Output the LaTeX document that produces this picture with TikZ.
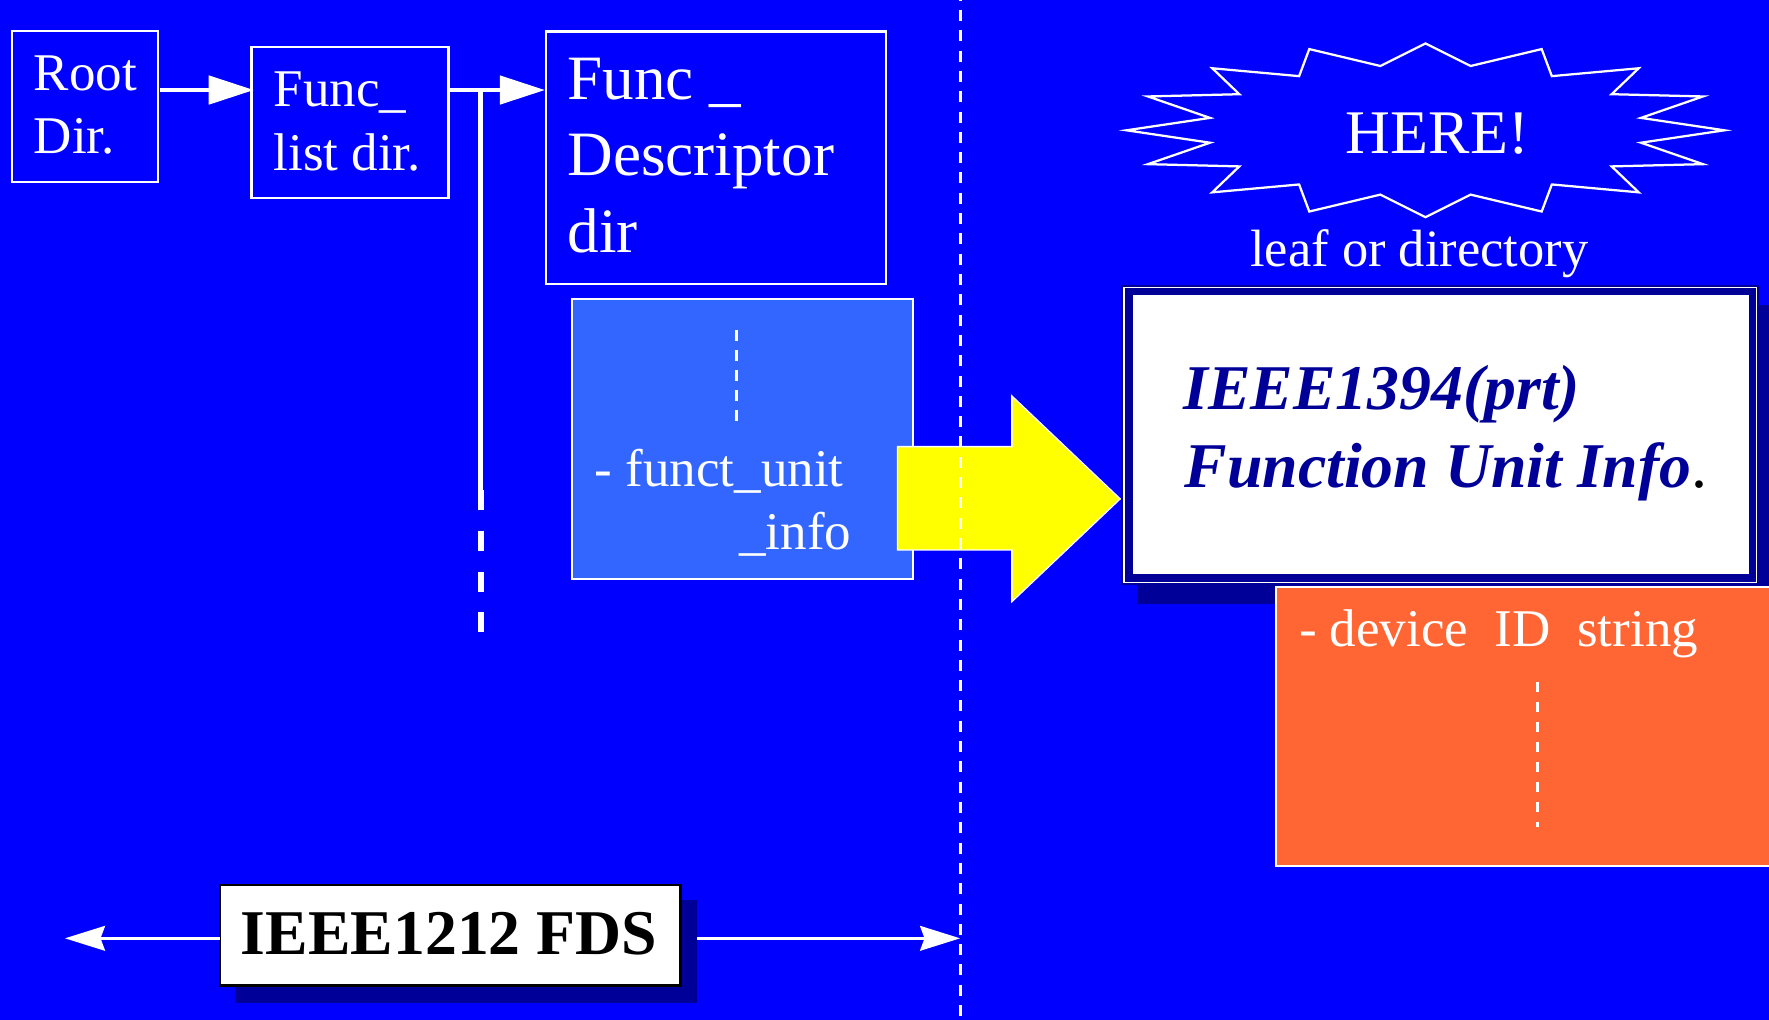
\documentclass[tikz,border=0pt]{standalone}
\usepackage{fontspec}
\setmainfont{Liberation Serif}
\usetikzlibrary{arrows.meta}

\definecolor{bgblue}{HTML}{0000FF}
\definecolor{lightblue}{HTML}{3366FF}
\definecolor{hiyellow}{HTML}{FFFF00}
\definecolor{orangebox}{HTML}{FF6633}
\definecolor{navy}{HTML}{000099}

\tikzset{
  box/.style={rectangle, draw=white, line width=2pt, inner sep=0pt, outer sep=0pt, anchor=north west},
  txt/.style={text=white, anchor=base west, inner sep=0pt, outer sep=0pt},
  fsmall/.style={font=\fontsize{47}{57}\selectfont},
  fbig/.style={font=\fontsize{56}{68}\selectfont},
  flow/.style={draw=white, line width=3.8pt, -{Triangle[length=40pt, width=25pt]}},
  bothway/.style={draw=white, line width=2.2pt, -{Stealth[length=35.5pt, width=22pt, inset=4pt]}},
  dotline/.style={draw=white, line width=2.6pt, dash pattern=on 10pt off 7.7pt},
  shadowbox/.style={rectangle, fill=navy, inner sep=0pt, outer sep=0pt, anchor=north west},
}

\begin{document}
\begin{tikzpicture}[x=1pt, y=-1pt]
  % canvas
  \useasboundingbox (0,0) rectangle (1568,904);
  \fill[bgblue] (0,0) rectangle (1568,904);

  % directory chain
  \node[box, minimum width=129.5pt, minimum height=133.5pt] (root) at (10.5,27.5) {};
  \node[txt, fsmall] (rootA) at (29.9,79.8) {Root};
  \node[txt, fsmall] (rootB) at (29.9,136.5) {Dir.};

  \node[box, minimum width=174.6pt, minimum height=133.8pt] (flist) at (223,41.7) {};
  \node[txt, fsmall] (flistA) at (242.5,94) {Func\_};
  \node[txt, fsmall] (flistB) at (242.5,150.7) {list dir.};

  \node[box, minimum width=301.4pt, minimum height=224pt] (fdesc) at (484,28) {};
  \node[txt, fbig] (fdescA) at (503,88) {Func \_};
  \node[txt, fbig] (fdescB) at (503,156) {Descriptor};
  \node[txt, fbig] (fdescC) at (503,223.7) {dir};

  \coordinate (rowa) at (0,79.8);
  \draw[flow] ([xshift=1.5pt]root.east |- rowa) -- ([xshift=2pt]flist.west |- rowa);
  \draw[flow] (flist.east |- rowa) -- ([xshift=-1pt]fdesc.west |- rowa);

  % branch going down from the chain
  \coordinate (branch) at (426,78);
  \coordinate (solidend) at (426,434);
  \coordinate (dashend) at (426,561);
  \draw[white, line width=4pt] (branch) -- (solidend);
  \draw[white, line width=5.3pt, dash pattern=on 17.7pt off 18.6pt] (solidend) -- (dashend);

  % entry list of the descriptor directory
  \node[box, fill=lightblue, minimum width=301.8pt, minimum height=247.7pt] (funit) at (507.2,265.3) {};
  \coordinate (funitTop) at (652.7,292.5);
  \coordinate (funitBot) at (652.7,372.9);
  \draw[dotline] (funitTop) -- (funitBot);
  \node[txt, fsmall] (funitA) at (527.2,430.8) {- funct\_unit};
  \node[txt, fsmall] (funitB) at (655.4,486.9) {\_info};

  % big yellow arrow
  \fill[hiyellow, draw=white, line width=1.2pt]
    (795.5,395.9) -- (896.9,395.9) -- (896.9,351) -- (992.9,442.2)
    -- (896.9,533.3) -- (896.9,487.5) -- (795.5,487.5) -- cycle;

  % starburst callout
  \begin{scope}[shift={(1263.5,115.5)}]
    \draw[white, line width=2pt, line join=miter]
      (0,-77) -- (40,-57) -- (103,-72) -- (112,-48) -- (189,-55) -- (165,-32)
      -- (246,-30) -- (191,-11) -- (265,0) -- (191,11) -- (246,30) -- (165,32)
      -- (189,55) -- (112,48) -- (103,72) -- (40,57) -- (0,77) -- (-40,57)
      -- (-103,72) -- (-112,48) -- (-189,55) -- (-165,32) -- (-246,30)
      -- (-191,11) -- (-265,0) -- (-191,-11) -- (-246,-30) -- (-165,-32)
      -- (-189,-55) -- (-112,-48) -- (-103,-72) -- (-40,-57) -- cycle;
  \end{scope}
  \node[text=white, anchor=base, inner sep=0pt, font=\fontsize{55}{66}\selectfont] (here) at (1274,136.5) {HERE!};
  \node[text=white, anchor=base, inner sep=0pt, font=\fontsize{46.5}{56}\selectfont] (leaf) at (1258,236) {leaf or directory};

  % framed info box with shadow
  \node[shadowbox, minimum width=567pt, minimum height=265pt] (infoshadow) at (1008,270) {};
  \node[rectangle, fill=navy, inner sep=0pt, outer sep=0pt, anchor=north west,
        minimum width=565pt, minimum height=266pt] (info) at (994,252.6) {};
  \draw[white, line width=1.3pt]
    ([shift={(2.3pt,-2.3pt)}]info.north west) rectangle ([shift={(-2.3pt,2.3pt)}]info.south east);
  \fill[white]
    ([shift={(10.5pt,-8.9pt)}]info.north west) rectangle ([shift={(-8.5pt,10.1pt)}]info.south east);
  \node[anchor=base west, inner sep=0pt, text=navy, font=\fontsize{56.5}{68}\selectfont\bfseries\itshape]
    (infoA) at (1048.8,363.4) {IEEE1394(prt)};
  \node[anchor=base west, inner sep=0pt, text=navy, font=\fontsize{56.5}{68}\selectfont\bfseries\itshape]
    (infoB) at (1049.9,432) {Function Unit Info\textcolor{black}{\mdseries\upshape .}};

  % device ID block
  \node[box, fill=orangebox, minimum width=450pt, minimum height=247pt] (dev) at (1131,520.6) {};
  \node[txt, fsmall] (devA) at (1151.4,573.2) {- device\ \ ID\ \ string};
  \coordinate (devTop) at (1362.6,604.8);
  \coordinate (devBot) at (1362.6,733.3);
  \draw[white, line width=2.4pt, dash pattern=on 8.9pt off 8.8pt] (devTop) -- (devBot);

  % scope label at the bottom
  \node[shadowbox, minimum width=409.8pt, minimum height=91pt] (fdsshadow) at (208,797.7) {};
  \node[rectangle, fill=white, draw=black, line width=2.4pt, inner sep=0pt, outer sep=0pt,
        anchor=north west, minimum width=408pt, minimum height=89pt] (fds) at (195,784.4) {};
  \node[anchor=base, inner sep=0pt, text=black, font=\fontsize{56.5}{68}\selectfont\bfseries]
    (fdsA) at (398,845.6) {IEEE1212 FDS};
  \coordinate (rowb) at (0,831.7);
  \coordinate (leftend) at (57.6,831.7);
  \coordinate (rightend) at (851,831.7);
  \draw[bothway] (fds.west |- rowb) -- (leftend);
  \draw[bothway] (fdsshadow.east |- rowb) -- (rightend);

  % boundary between the two standards
  \coordinate (divtop) at (851.3,0);
  \coordinate (divbot) at (851.3,904);
  \draw[white, line width=3pt, dash pattern=on 9.75pt off 8.25pt, dash phase=9.1pt] (divtop) -- (divbot);
\end{tikzpicture}
\end{document}
